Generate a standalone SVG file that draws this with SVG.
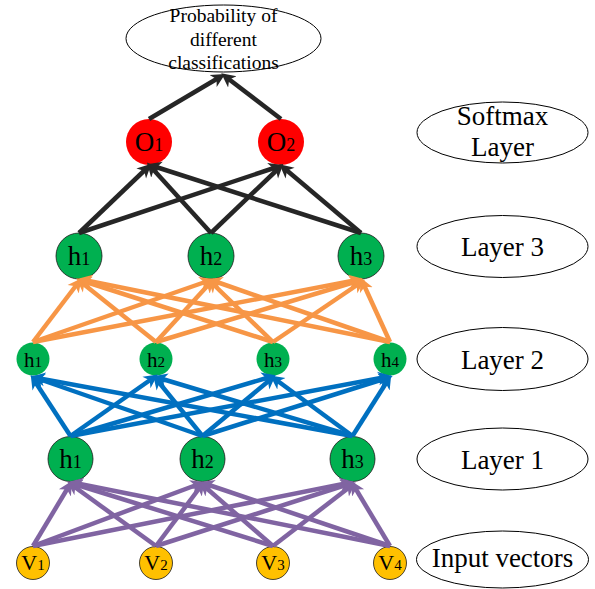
<svg xmlns="http://www.w3.org/2000/svg" width="595" height="589" viewBox="0 0 595 589">
  <style>
    .lbl { font-family: "Liberation Serif", "Times New Roman", serif; fill: #000; text-anchor: middle; }
    .tag { fill: #fff; stroke: #000; stroke-width: 1; }
    .tagtxt { font-family: "Liberation Serif", "Times New Roman", serif; font-size: 27px; fill: #000; text-anchor: middle; }
    .out { fill: #ff0000; }
    .hid { fill: #00b050; stroke: #1a1a1a; stroke-width: 0.8; }
    .hid2 { fill: #00b050; }
    .inp { fill: #ffc000; stroke: #1a1a1a; stroke-width: 0.8; }
    .big { font-size: 27px; }
    .sub { font-size: 18px; }
    .k { stroke: #262626; stroke-width: 4.5; fill: none; marker-end: url(#ak); }
    .o { stroke: #f79646; stroke-width: 4.5; fill: none; marker-end: url(#ao); }
    .b { stroke: #0070c0; stroke-width: 4.5; fill: none; marker-end: url(#ab); }
    .p { stroke: #8064a2; stroke-width: 4.5; fill: none; marker-end: url(#ap); }
  </style>
  <defs>
    <marker id="ak" markerUnits="userSpaceOnUse" markerWidth="16" markerHeight="16" refX="8" refY="8" orient="auto">
      <path d="M0,1 L14,8 L0,15 L4,8 Z" fill="#262626"/>
    </marker>
    <marker id="ao" markerUnits="userSpaceOnUse" markerWidth="16" markerHeight="16" refX="8" refY="8" orient="auto">
      <path d="M0,1 L14,8 L0,15 L4,8 Z" fill="#f79646"/>
    </marker>
    <marker id="ab" markerUnits="userSpaceOnUse" markerWidth="16" markerHeight="16" refX="8" refY="8" orient="auto">
      <path d="M0,1 L14,8 L0,15 L4,8 Z" fill="#0070c0"/>
    </marker>
    <marker id="ap" markerUnits="userSpaceOnUse" markerWidth="16" markerHeight="16" refX="8" refY="8" orient="auto">
      <path d="M0,1 L14,8 L0,15 L4,8 Z" fill="#8064a2"/>
    </marker>
  </defs>
  <rect width="595" height="589" fill="#fff"/>

  <!-- result ellipse -->
  <g id="result">
    <ellipse class="tag" cx="223.5" cy="38.5" rx="97.5" ry="33.5"/>
    <text class="lbl" font-size="19.5" x="223.5" y="22">Probability of</text>
    <text class="lbl" font-size="19.5" x="223.5" y="45.5">different</text>
    <text class="lbl" font-size="19.5" x="223.5" y="69">classifications</text>
  </g>

  <!-- layer name tags -->
  <g id="tag-softmax">
    <ellipse class="tag" cx="502.5" cy="132.5" rx="85.5" ry="30.5"/>
    <text class="tagtxt" x="502.5" y="125">Softmax</text>
    <text class="tagtxt" x="502.5" y="156">Layer</text>
  </g>
  <g id="tag-layer3">
    <ellipse class="tag" cx="502.5" cy="246.5" rx="85.5" ry="31"/>
    <text class="tagtxt" x="502.5" y="256">Layer 3</text>
  </g>
  <g id="tag-layer2">
    <ellipse class="tag" cx="502.5" cy="359" rx="85.5" ry="31.5"/>
    <text class="tagtxt" x="502.5" y="369">Layer 2</text>
  </g>
  <g id="tag-layer1">
    <ellipse class="tag" cx="502.5" cy="459" rx="85.5" ry="31"/>
    <text class="tagtxt" x="502.5" y="469">Layer 1</text>
  </g>
  <g id="tag-input">
    <ellipse class="tag" cx="502.5" cy="559.5" rx="86" ry="28.5"/>
    <text class="tagtxt" x="502.5" y="567">Input vectors</text>
  </g>

  <!-- softmax outputs -->
  <g id="o1"><circle class="out" cx="149" cy="142" r="23"/><text class="lbl" x="149" y="151"><tspan font-size="27">O</tspan><tspan font-size="18">1</tspan></text></g>
  <g id="o2"><circle class="out" cx="281" cy="142" r="23"/><text class="lbl" x="281" y="151"><tspan font-size="27">O</tspan><tspan font-size="18">2</tspan></text></g>

  <!-- layer 3 -->
  <g id="l3h1"><circle class="hid" cx="79" cy="256" r="23"/><text class="lbl" x="79" y="265"><tspan class="big">h</tspan><tspan class="sub">1</tspan></text></g>
  <g id="l3h2"><circle class="hid" cx="211" cy="256" r="23"/><text class="lbl" x="211" y="265"><tspan class="big">h</tspan><tspan class="sub">2</tspan></text></g>
  <g id="l3h3"><circle class="hid" cx="361" cy="256" r="23"/><text class="lbl" x="361" y="265"><tspan class="big">h</tspan><tspan class="sub">3</tspan></text></g>

  <!-- layer 2 -->
  <g id="l2h1"><circle class="hid2" cx="33" cy="359" r="16.5"/><text class="lbl" x="33" y="367"><tspan font-size="21">h</tspan><tspan font-size="15">1</tspan></text></g>
  <g id="l2h2"><circle class="hid2" cx="156" cy="359" r="16.5"/><text class="lbl" x="156" y="367"><tspan font-size="21">h</tspan><tspan font-size="15">2</tspan></text></g>
  <g id="l2h3"><circle class="hid2" cx="273" cy="359" r="16.5"/><text class="lbl" x="273" y="367"><tspan font-size="21">h</tspan><tspan font-size="15">3</tspan></text></g>
  <g id="l2h4"><circle class="hid2" cx="390" cy="359" r="16.5"/><text class="lbl" x="390" y="367"><tspan font-size="21">h</tspan><tspan font-size="15">4</tspan></text></g>

  <!-- layer 1 -->
  <g id="l1h1"><circle class="hid" cx="70.5" cy="459" r="22.5"/><text class="lbl" x="70.5" y="468"><tspan class="big">h</tspan><tspan class="sub">1</tspan></text></g>
  <g id="l1h2"><circle class="hid" cx="202.5" cy="459" r="22.5"/><text class="lbl" x="202.5" y="468"><tspan class="big">h</tspan><tspan class="sub">2</tspan></text></g>
  <g id="l1h3"><circle class="hid" cx="352.5" cy="459" r="22.5"/><text class="lbl" x="352.5" y="468"><tspan class="big">h</tspan><tspan class="sub">3</tspan></text></g>

  <!-- inputs -->
  <g id="v1"><circle class="inp" cx="33" cy="563" r="16.5"/><text class="lbl" x="33" y="570"><tspan font-size="22">V</tspan><tspan font-size="15">1</tspan></text></g>
  <g id="v2"><circle class="inp" cx="156" cy="563" r="16.5"/><text class="lbl" x="156" y="570"><tspan font-size="22">V</tspan><tspan font-size="15">2</tspan></text></g>
  <g id="v3"><circle class="inp" cx="273" cy="563" r="16.5"/><text class="lbl" x="273" y="570"><tspan font-size="22">V</tspan><tspan font-size="15">3</tspan></text></g>
  <g id="v4"><circle class="inp" cx="390" cy="563" r="16.5"/><text class="lbl" x="390" y="570"><tspan font-size="22">V</tspan><tspan font-size="15">4</tspan></text></g>

  <!-- connectors -->
  <g id="connectors">
    <!-- outputs to result -->
    <line class="k" x1="149" y1="119" x2="220" y2="77"/>
    <line class="k" x1="281" y1="119" x2="226" y2="77"/>
    <!-- layer 3 to outputs -->
    <line class="k" x1="79" y1="233" x2="147" y2="168"/>
    <line class="k" x1="79" y1="233" x2="277" y2="167"/>
    <line class="k" x1="211" y1="233" x2="151" y2="167"/>
    <line class="k" x1="211" y1="233" x2="279" y2="168"/>
    <line class="k" x1="361" y1="233" x2="153" y2="166"/>
    <line class="k" x1="361" y1="233" x2="284" y2="168"/>
    <!-- layer 2 to layer 3 -->
    <line class="o" x1="33" y1="342" x2="78" y2="283"/>
    <line class="o" x1="33" y1="342" x2="208" y2="281"/>
    <line class="o" x1="33" y1="342" x2="357" y2="280"/>
    <line class="o" x1="156" y1="342" x2="81" y2="282"/>
    <line class="o" x1="156" y1="342" x2="210" y2="283"/>
    <line class="o" x1="156" y1="342" x2="358" y2="281"/>
    <line class="o" x1="273" y1="342" x2="83" y2="281"/>
    <line class="o" x1="273" y1="342" x2="212" y2="283"/>
    <line class="o" x1="273" y1="342" x2="360" y2="283"/>
    <line class="o" x1="390" y1="342" x2="84" y2="280"/>
    <line class="o" x1="390" y1="342" x2="214" y2="281"/>
    <line class="o" x1="390" y1="342" x2="363" y2="283"/>
    <!-- layer 1 to layer 2 -->
    <line class="b" x1="70.5" y1="436" x2="34" y2="380"/>
    <line class="b" x1="70.5" y1="436" x2="153" y2="378"/>
    <line class="b" x1="70.5" y1="436" x2="270" y2="377"/>
    <line class="b" x1="70.5" y1="436" x2="386" y2="377"/>
    <line class="b" x1="202.5" y1="436" x2="36" y2="378"/>
    <line class="b" x1="202.5" y1="436" x2="157" y2="380"/>
    <line class="b" x1="202.5" y1="436" x2="271" y2="379"/>
    <line class="b" x1="202.5" y1="436" x2="387" y2="378"/>
    <line class="b" x1="352.5" y1="436" x2="37" y2="378"/>
    <line class="b" x1="352.5" y1="436" x2="159" y2="378"/>
    <line class="b" x1="352.5" y1="436" x2="275" y2="379"/>
    <line class="b" x1="352.5" y1="436" x2="388" y2="380"/>
    <!-- inputs to layer 1 -->
    <line class="p" x1="33" y1="546" x2="69" y2="486"/>
    <line class="p" x1="33" y1="546" x2="199" y2="484"/>
    <line class="p" x1="33" y1="546" x2="348" y2="483"/>
    <line class="p" x1="156" y1="546" x2="72" y2="485"/>
    <line class="p" x1="156" y1="546" x2="201" y2="486"/>
    <line class="p" x1="156" y1="546" x2="349" y2="484"/>
    <line class="p" x1="273" y1="546" x2="74" y2="484"/>
    <line class="p" x1="273" y1="546" x2="204" y2="486"/>
    <line class="p" x1="273" y1="546" x2="351" y2="486"/>
    <line class="p" x1="390" y1="546" x2="75" y2="483"/>
    <line class="p" x1="390" y1="546" x2="206" y2="484"/>
    <line class="p" x1="390" y1="546" x2="354" y2="486"/>
  </g>
</svg>
